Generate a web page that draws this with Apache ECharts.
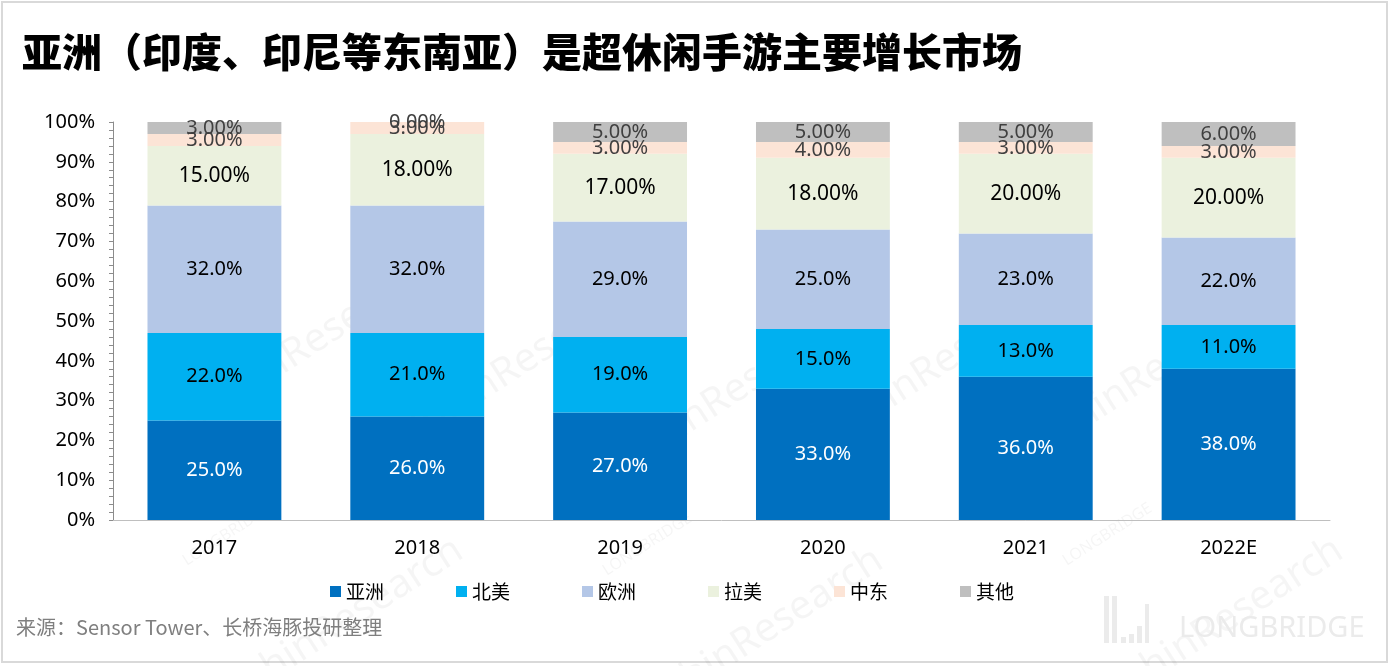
<!DOCTYPE html>
<html><head><meta charset="utf-8">
<script src="https://cdn.jsdelivr.net/npm/echarts@6/dist/echarts.min.js"></script>
<style>html,body{margin:0;padding:0;background:#fff}#c{width:1390px;height:666px}</style>
</head><body><div id="c"></div>
<script>
const categories = ['2017','2018','2019','2020','2021','2022E'];
const asia   = [25, 26, 27, 33, 36, 38];
const na     = [22, 21, 19, 15, 13, 11];
const europe = [32, 32, 29, 25, 23, 22];
const latam  = [15, 18, 17, 18, 20, 20];
const me     = [3, 3, 3, 4, 3, 3];
const other  = [3, 0, 5, 5, 5, 6];
const yTicks = ['0%','10%','20%','30%','40%','50%','60%','70%','80%','90%','100%'];

const FONT = '"Noto Sans", "Noto Sans CJK SC", sans-serif';
const chart = echarts.init(document.getElementById('c'));
function mk(name, data, color, labelColor, digits, size) {
  return {
    name, type: 'bar', stack: 'all', data, barWidth: '66%',
    itemStyle: {color},
    label: {show: true, position: 'inside', color: labelColor, fontSize: size, fontFamily: FONT,
      formatter: p => p.value.toFixed(digits) + '%'}
  };
}
const wm = [];
[[270,280],[480,300],[690,330],[900,300],[1110,310],[300,560],[720,570],[1180,560]].forEach(([x,y])=>{
  wm.push({type:'text', left:x-120, top:y-60, rotation:Math.PI/5.5, z:-10,
    style:{text:'LONGBRIDGE', fill:'rgba(0,0,0,0.04)', font:'16px "Noto Sans"'}});
  wm.push({type:'text', left:x-120, top:y-30, rotation:Math.PI/5.5, z:-10,
    style:{text:'DolphinResearch', fill:'rgba(0,0,0,0.04)', font:'40px "Noto Sans"'}});
});
const G = '#ebebeb';
chart.setOption({
  backgroundColor: '#fff',
  animation: false,
  graphic: [
    {type:'rect', shape:{x:2, y:2, width:1385, height:660}, style:{fill:'none', stroke:'#d9d9d9', lineWidth:2}, z:-20},
    {type:'text', left:22, top:32, style:{text:'亚洲（印度、印尼等东南亚）是超休闲手游主要增长市场', fill:'#000', font:'900 40px "Noto Sans CJK SC"'}},
    {type:'text', left:16, top:617, style:{text:'来源：Sensor Tower、长桥海豚投研整理', fill:'#7f7f7f', font:'20px "Noto Sans CJK SC"'}},
    {type:'text', left:1179, top:614, style:{text:'LONGBRIDGE', fill:G, font:'29px "Noto Sans"'}},
    {type:'group', left:1104, top:596, z:-5, children:[
      {type:'rect', shape:{x:0, y:0, width:5, height:47}, style:{fill:G}},
      {type:'rect', shape:{x:8, y:0, width:5, height:47}, style:{fill:G}},
      {type:'rect', shape:{x:17, y:41, width:5, height:6}, style:{fill:G}},
      {type:'rect', shape:{x:25, y:38, width:5, height:9}, style:{fill:G}},
      {type:'rect', shape:{x:33, y:30, width:5, height:17}, style:{fill:G}},
      {type:'rect', shape:{x:41, y:8, width:4, height:39}, style:{fill:G}}
    ]}
  ].concat(wm),
  legend: {
    bottom: 60, left: 325, itemWidth: 11, itemHeight: 11, itemGap: 72, icon: 'rect',
    textStyle: {fontSize: 19, color: '#000', fontFamily: '"Noto Sans CJK SC"'},
    data: ['亚洲','北美','欧洲','拉美','中东','其他']
  },
  grid: {left: 113, right: 60, top: 122, bottom: 146},
  xAxis: {
    type: 'category', data: categories,
    axisLine: {lineStyle: {color: '#bfbfbf'}}, axisTick: {show: false},
    axisLabel: {fontSize: 20, color: '#000', margin: 18, fontFamily: FONT}
  },
  yAxis: {
    type: 'value', min: 0, max: 100, interval: 10,
    axisLine: {show: true, lineStyle: {color: '#8c8c8c'}},
    axisTick: {show: true, length: 4, lineStyle: {color: '#8c8c8c'}},
    minorTick: {show: true, splitNumber: 5, length: 4, lineStyle: {color: '#8c8c8c'}},
    splitLine: {show: false},
    axisLabel: {fontSize: 20, color: '#000', margin: 18, fontFamily: FONT,
      formatter: v => yTicks[Math.round(v / 10)]}
  },
  series: [
    mk('亚洲', asia, '#0070C0', '#fff', 1, 20),
    mk('北美', na, '#00B0F0', '#000', 1, 20),
    mk('欧洲', europe, '#B4C7E7', '#000', 1, 20),
    mk('拉美', latam, '#EBF1DE', '#000', 2, 21),
    mk('中东', me, '#FCE4D6', '#404040', 2, 20),
    mk('其他', other, '#BFBFBF', '#404040', 2, 20)
  ]
});
</script></body></html>
